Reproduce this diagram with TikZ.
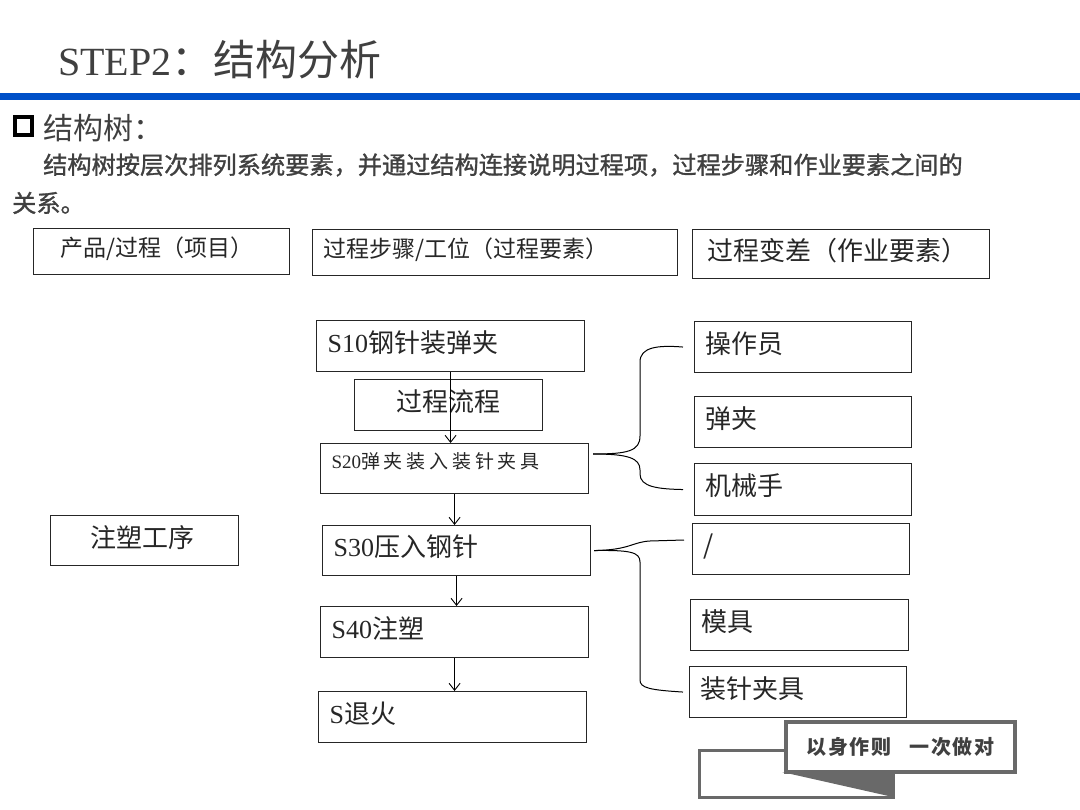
\documentclass[tikz,border=0pt]{standalone}
\usepackage{fontspec}
\setmainfont{Liberation Serif}
\newfontfamily\cjk{Noto Sans CJK SC}
\usetikzlibrary{arrows.meta}

\definecolor{barblue}{RGB}{0,80,200}
\definecolor{inkgray}{RGB}{64,64,64}
\definecolor{badgegray}{RGB}{105,105,105}

\begin{document}
\begin{tikzpicture}[
  x=1pt, y=-1pt,
  box/.style={draw=black!85, line width=1.1pt, anchor=north west, align=left, inner xsep=11pt,
    text depth=9pt, text=black!85, font=\cjk\fontsize{26}{30}\selectfont},
  arrow/.style={-{Straight Barb[length=7pt,width=11pt]}, line width=0.9pt},
  brace/.style={line width=1pt}
]
\useasboundingbox (0,0) rectangle (1080,810);

% title and rule
\node[anchor=west, inner sep=0, text=inkgray, font=\fontsize{40}{46}\selectfont] (title) at (58,60)
  {STEP2{\cjk\fontsize{42}{46}\selectfont ：结构分析}};
\fill[barblue] (0,93) rectangle (1080,100);

% heading and intro
\draw[line width=4pt] (15,117) rectangle (32,135);
\node[anchor=west, inner sep=0, text=inkgray, font=\cjk\fontsize{30}{34}\selectfont] (treehead) at (43,128) {结构树：};
\node[anchor=west, inner sep=0, text=inkgray, font=\cjk\fontsize{24.2}{28}\selectfont\addfontfeature{FakeBold=1.2}] (intro) at (43,165)
  {结构树按层次排列系统要素，并通过结构连接说明过程项，过程步骤和作业要素之间的};
\node[anchor=west, inner sep=0, text=inkgray, font=\cjk\fontsize{24.2}{28}\selectfont\addfontfeature{FakeBold=1.2}] (intro2) at (12,203) {关系。};

% column headers
\node[box, font=\cjk\fontsize{23}{27}\selectfont, inner xsep=27pt, text width=202pt, minimum height=46pt] (item) at (33,228) {产品/过程（项目）};
\node[box, font=\cjk\fontsize{23}{27}\selectfont, text width=343pt, minimum height=46pt] (stepcol) at (312,229) {过程步骤/工位（过程要素）};
\node[box, inner xsep=15pt, text width=267pt, minimum height=49pt] (varcol) at (692,229) {过程变差（作业要素）};

% process steps
\node[box, text width=246pt, minimum height=51pt] (s10) at (316,320) {{\rmfamily S10}钢针装弹夹};
\node[box, align=center, text width=166pt, minimum height=51pt] (flow) at (354,379) {过程流程};
\node[box, text width=246pt, minimum height=50pt, text depth=17pt,
  font=\cjk\fontsize{19}{22}\selectfont\addfontfeature{LetterSpace=20}] (s20) at (320,443) {{\rmfamily S20}弹夹装入装针夹具};
\node[box, text width=246pt, minimum height=50pt] (s30) at (322,525) {{\rmfamily S30}压入钢针};
\node[box, text width=246pt, minimum height=51pt] (s40) at (320,606) {{\rmfamily S40}注塑};
\node[box, text width=246pt, minimum height=51pt] (s50) at (318,691) {{\rmfamily S}退火};
\node[box, inner xsep=40pt, text width=108pt, minimum height=50pt] (moulding) at (50,515) {注塑工序};

% work elements
\node[box, text width=195pt, minimum height=51pt] (op) at (694,321) {操作员};
\node[box, text width=195pt, minimum height=51pt] (clip) at (694,396) {弹夹};
\node[box, text width=195pt, minimum height=52pt] (robot) at (694,463) {机械手};
\node[box, text width=195pt, minimum height=51pt] (none) at (692,523) {/};
\node[box, text width=196pt, minimum height=51pt] (mould) at (690,599) {模具};
\node[box, text width=195pt, minimum height=51pt] (fixture) at (689,666) {装针夹具};

% flow arrows
\draw[arrow] (s10.south) -- (s10.south |- s20.north);
\draw[arrow] (s20.south) -- (s20.south |- s30.north);
\draw[arrow] (s30.south) -- (s30.south |- s40.north);
\draw[arrow] (s40.south) -- (s40.south |- s50.north);

% braces
\coordinate (b20) at (593,454);
\coordinate (b30) at ([xshift=3pt]s30.east);
\coordinate (none-in) at (684,540);
\draw[brace] (b20) .. controls (628,454) and (640,451) .. (640,436) -- (640,362)
  .. controls (640,347) and (658,345) .. ([xshift=-11pt]op.west);
\draw[brace] (b20) .. controls (628,454) and (640,458) .. (640,470) -- (640,474)
  .. controls (640,487) and (658,489) .. ([xshift=-11pt]robot.west);
\draw[brace] (b30) .. controls (630,550) and (632,542) .. (650,541) -- (none-in);
\draw[brace] (b30) .. controls (630,550) and (640,552) .. (640,562) -- (640,680)
  .. controls (640,688) and (650,690) .. ([xshift=-6pt]fixture.west);

% motto badge
\draw[badgegray, line width=3pt] (699,750) rectangle (893,797);
\fill[badgegray] (782,772) -- (893,772) -- (893,797) -- cycle;
\node[draw=badgegray, line width=4pt, fill=white, anchor=north west, minimum width=229pt, minimum height=50pt,
  text=inkgray, font=\cjk\bfseries\fontsize{20}{24}\selectfont\addfontfeature{LetterSpace=8}] (motto) at (784,720) {以身作则\hspace{18pt}一次做对};
\end{tikzpicture}
\end{document}
